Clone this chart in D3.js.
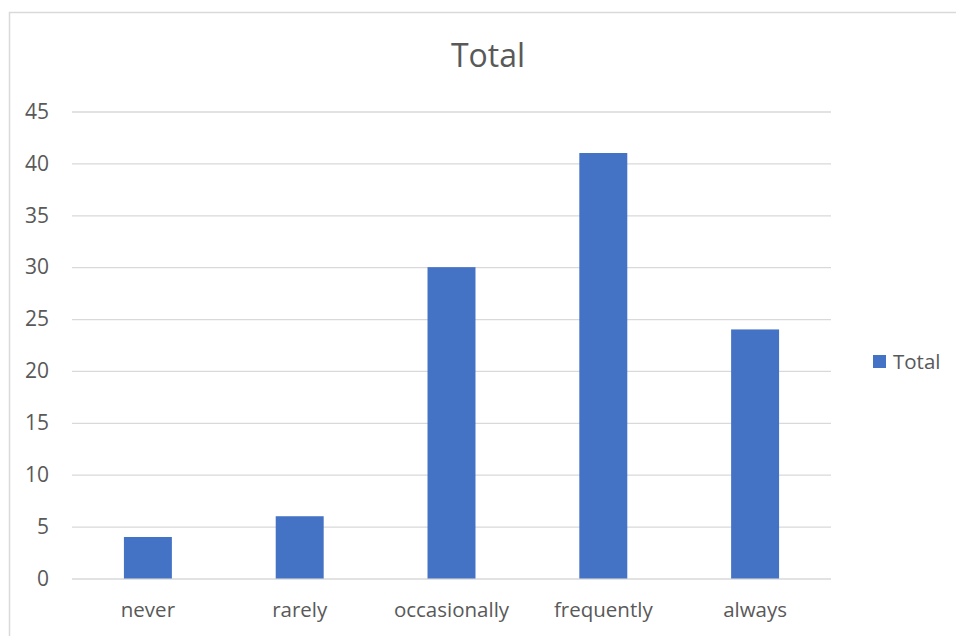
<!DOCTYPE html>
<html>
<head>
<meta charset="utf-8">
<script src="https://cdn.jsdelivr.net/npm/d3@7"></script>
<style>
  html, body { margin: 0; padding: 0; background: #fff; }
  svg { display: block; font-family: "Open Sans", "Liberation Sans", sans-serif; }
</style>
</head>
<body>
<svg id="chart" width="956" height="636"></svg>
<script>
// Responses per frequency category
const categories = ["never", "rarely", "occasionally", "frequently", "always"];
const totals = [4, 6, 30, 41, 24];
const yTicks = [0, 5, 10, 15, 20, 25, 30, 35, 40, 45];
const seriesName = "Total";
const chartTitle = "Total";

const svg = d3.select("#chart");
const textColor = "#595959";
const gridColor = "#d9d9d9";
const barColor = "#4472C4";

// chart frame
svg.append("rect")
  .attr("x", 9.5).attr("y", 12.5)
  .attr("width", 960).attr("height", 640)
  .attr("fill", "#fff")
  .attr("stroke", gridColor).attr("stroke-width", 1.5);

const plot = { left: 72, right: 831, top: 111.5, bottom: 578.5 };

const x = d3.scaleBand()
  .domain(categories)
  .range([plot.left, plot.right])
  .paddingInner(0.684)
  .paddingOuter(0.342);

const y = d3.scaleLinear()
  .domain([0, 45])
  .range([plot.bottom, plot.top]);

// horizontal gridlines + y labels
const yAxis = d3.axisLeft(y)
  .tickValues(yTicks)
  .tickSize(-(plot.right - plot.left))
  .tickPadding(23)
  .tickFormat(d3.format("d"));

const gy = svg.append("g")
  .attr("transform", `translate(${plot.left},0)`)
  .call(yAxis);
gy.select(".domain").remove();
gy.selectAll(".tick line")
  .attr("stroke", gridColor).attr("stroke-width", 1.3);
gy.selectAll(".tick text")
  .attr("fill", textColor)
  .attr("font-size", 21)
  .attr("font-family", "'Open Sans', sans-serif");

// bars
svg.append("g")
  .selectAll("rect")
  .data(categories.map((c, i) => ({ c, v: totals[i] })))
  .join("rect")
  .attr("x", d => x(d.c))
  .attr("y", d => y(d.v))
  .attr("width", x.bandwidth())
  .attr("height", d => y(0) - y(d.v))
  .attr("fill", barColor);

// category labels
const xAxis = d3.axisBottom(x).tickSize(0).tickPadding(24);
const gx = svg.append("g")
  .attr("transform", `translate(0,${plot.bottom})`)
  .call(xAxis);
gx.select(".domain").remove();
gx.selectAll(".tick text")
  .attr("fill", textColor)
  .attr("font-size", 20.5)
  .attr("font-family", "'Open Sans', sans-serif");

// title
svg.append("text")
  .attr("x", 488).attr("y", 67)
  .attr("text-anchor", "middle")
  .attr("fill", textColor)
  .attr("font-size", 32)
  .text(chartTitle);

// legend
const legend = svg.append("g").attr("transform", "translate(873,355)");
legend.append("rect")
  .attr("width", 13).attr("height", 13)
  .attr("fill", barColor);
legend.append("text")
  .attr("x", 20).attr("y", 14)
  .attr("fill", textColor)
  .attr("font-size", 20.5)
  .text(seriesName);
</script>
</body>
</html>
